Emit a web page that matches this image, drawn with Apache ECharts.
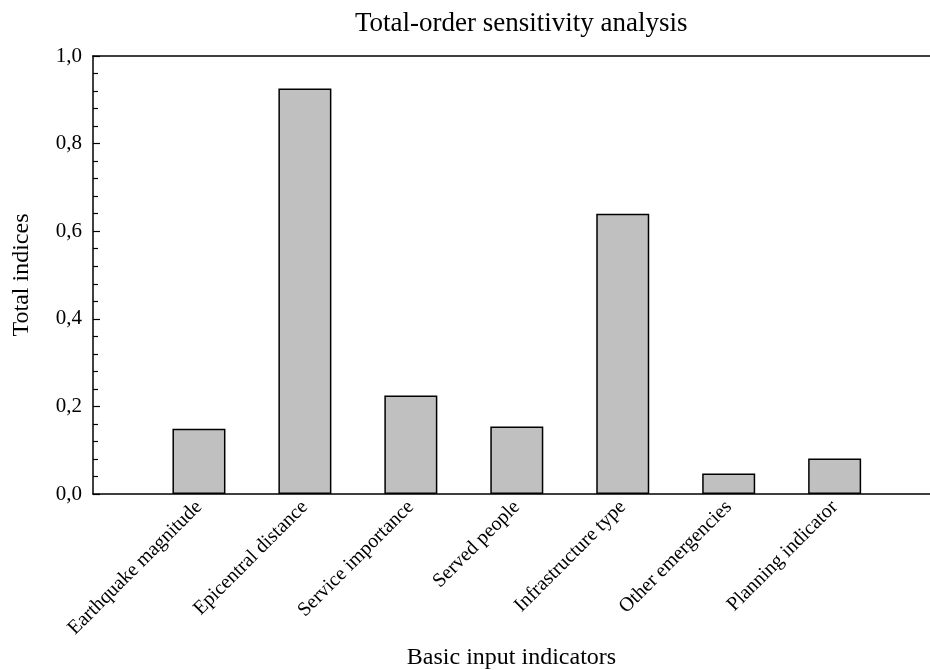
<!DOCTYPE html>
<html>
<head>
<meta charset="utf-8">
<script src="https://cdn.jsdelivr.net/npm/echarts@6/dist/echarts.min.js"></script>
<style>html,body{margin:0;padding:0;background:#fff}#c{width:930px;height:670px}</style>
</head>
<body>
<div id="c"></div>
<script>
const categories = ['Earthquake magnitude','Epicentral distance','Service importance','Served people','Infrastructure type','Other emergencies','Planning indicator'];
const totalIndices = [0.149, 0.926, 0.225, 0.154, 0.640, 0.047, 0.081];
const yTicks = [0.0, 0.2, 0.4, 0.6, 0.8, 1.0];

const FONT = '"Liberation Serif", "DejaVu Serif", serif';
const chart = echarts.init(document.getElementById('c'), null, {renderer: 'canvas'});
const positions = categories.map((c, i) => i + 1);
chart.setOption({
  animation: false,
  backgroundColor: '#fff',
  title: {
    text: 'Total-order sensitivity analysis',
    left: 350, top: 5,
    textStyle: {fontFamily: FONT, fontWeight: 'normal', fontSize: 27, color: '#000'}
  },
  grid: {left: 93, right: 0, top: 56, bottom: 176, containLabel: false, outerBoundsMode: 'none'},
  xAxis: [{
    type: 'value', min: 0, max: 7.9, interval: 1, position: 'bottom',
    name: 'Basic input indicators', nameLocation: 'middle', nameGap: 143,
    nameTextStyle: {fontFamily: FONT, fontSize: 24, color: '#000'},
    axisLine: {show: true, lineStyle: {color: '#000', width: 1.5}},
    axisTick: {show: false},
    splitLine: {show: false},
    axisLabel: {
      rotate: 45, margin: 10, fontFamily: FONT, fontSize: 20, color: '#000',
      showMinLabel: false, showMaxLabel: false,
      formatter: v => (v >= 1 && v <= categories.length && Number.isInteger(v)) ? categories[v - 1] : ''
    }
  }, {
    type: 'value', min: 0, max: 7.9, position: 'top',
    axisLine: {show: true, lineStyle: {color: '#000', width: 1.5}},
    axisTick: {show: false}, axisLabel: {show: false}, splitLine: {show: false}
  }],
  yAxis: {
    type: 'value', min: 0, max: 1, interval: 0.2,
    name: 'Total indices', nameLocation: 'middle', nameGap: 59,
    nameTextStyle: {fontFamily: FONT, fontSize: 24, color: '#000'},
    axisLine: {show: true, lineStyle: {color: '#000', width: 1.5}},
    axisTick: {show: true, inside: true, length: 7, lineStyle: {color: '#000', width: 1.2}},
    minorTick: {show: true, splitNumber: 5, length: 5, lineStyle: {color: '#000', width: 1.2}},
    splitLine: {show: false},
    axisLabel: {
      margin: 11, fontFamily: FONT, fontSize: 21, color: '#000',
      formatter: v => {
        const t = yTicks.find(x => Math.abs(x - v) < 1e-9);
        return (t !== undefined ? t : v).toFixed(1).replace('.', ',');
      }
    }
  },
  series: [{
    type: 'bar',
    xAxisIndex: 0,
    barWidth: 53,
    data: positions.map((p, i) => [p, totalIndices[i]]),
    itemStyle: {color: '#c0c0c0', borderColor: '#000', borderWidth: 1.5}
  }]
});
</script>
</body>
</html>
